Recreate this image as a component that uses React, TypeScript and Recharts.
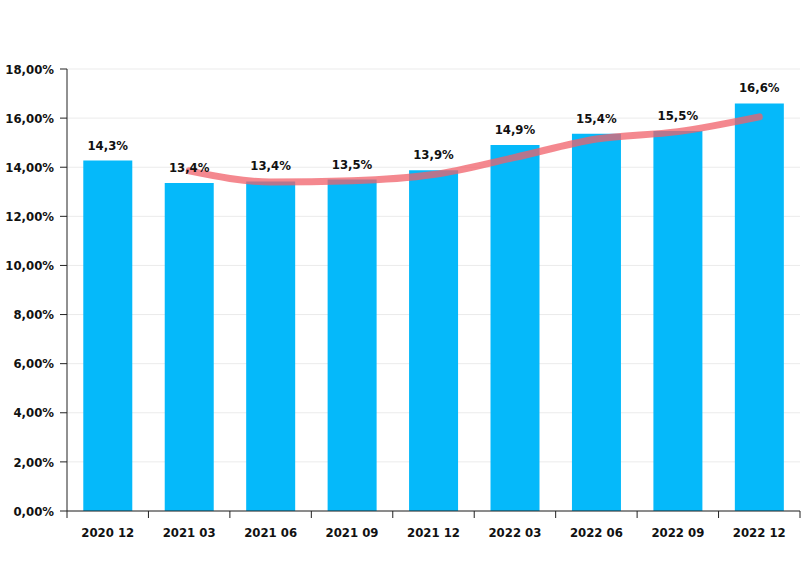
import React from "react";
import {
  Bar,
  CartesianGrid,
  ComposedChart,
  LabelList,
  Line,
  XAxis,
  YAxis,
} from "recharts";

const periods = ["2020 12", "2021 03", "2021 06", "2021 09", "2021 12", "2022 03", "2022 06", "2022 09", "2022 12"];
const ratio = [14.27, 13.36, 13.42, 13.5, 13.88, 14.9, 15.36, 15.48, 16.6];
const trend = [null, 13.85, 13.4, 13.45, 13.7, 14.4, 15.15, 15.45, 16.05];
const yTicks = [0, 2, 4, 6, 8, 10, 12, 14, 16, 18];

const data = periods.map((p, i) => ({ period: p, ratio: ratio[i], trend: trend[i] }));

const FONT = "'DejaVu Sans Condensed', 'DejaVu Sans', sans-serif";
const textStyle = { fontSize: 13, fontWeight: "bold", fontFamily: FONT, fill: "#111" };

const fmtAxis = (v: number) => v.toFixed(2).replace(".", ",") + "%";
const fmtLabel = (v: any) => Number(v).toFixed(1).replace(".", ",") + "%";

// excel-style ticks sit on the category boundaries, not the centres
function PeriodTick(props: any) {
  const { x, y, payload, index } = props;
  const half = payload?.offset ?? 40.7;
  const axisY = y - 9;
  return (
    <g>
      <line x1={x - half} x2={x - half} y1={axisY} y2={axisY + 7} stroke="#222" />
      {index === periods.length - 1 && (
        <line x1={x + half} x2={x + half} y1={axisY} y2={axisY + 7} stroke="#222" />
      )}
      <text x={x} y={axisY + 26} textAnchor="middle" {...textStyle}>
        {payload.value}
      </text>
    </g>
  );
}

export default function App() {
  return (
    <div style={{ position: "absolute", left: 0, top: 0, width: 812, height: 562, background: "#fff" }}>
      <ComposedChart
        width={812}
        height={562}
        data={data}
        margin={{ top: 69, right: 12, bottom: 21, left: 0 }}
        barCategoryGap="20%"
      >
        <CartesianGrid vertical={false} stroke="#ebebeb" />
        <XAxis
          dataKey="period"
          tickLine={false}
          tickSize={7}
          tickMargin={2}
          height={30}
          axisLine={{ stroke: "#222" }}
          tick={<PeriodTick />}
          interval={0}
        />
        <XAxis xAxisId="top" orientation="top" dataKey="period" tick={false} tickLine={false} axisLine={{ stroke: "#999" }} height={0} />
        <YAxis
          domain={[0, 18]}
          ticks={yTicks}
          width={67}
          tickSize={7}
          tickMargin={6}
          tickFormatter={fmtAxis}
          axisLine={{ stroke: "#222" }}
          tickLine={{ stroke: "#222" }}
          tick={textStyle}
        />
        <YAxis yAxisId="right" orientation="right" domain={[0, 18]} tick={false} tickLine={false} axisLine={{ stroke: "#999" }} width={0} />
        <Bar dataKey="ratio" fill="#05B9FA" isAnimationActive={false} />
        <Line
          dataKey="trend"
          type="monotone"
          stroke="#F0606A"
          strokeOpacity={0.75}
          strokeWidth={7}
          strokeLinecap="round"
          dot={false}
          activeDot={false}
          connectNulls={false}
          isAnimationActive={false}
        />
        {/* invisible series just to draw the bar labels above the trend line */}
        <Line dataKey="ratio" stroke="none" dot={false} activeDot={false} legendType="none" isAnimationActive={false}>
          <LabelList dataKey="ratio" position="top" offset={11} formatter={fmtLabel} style={textStyle} />
        </Line>
      </ComposedChart>
    </div>
  );
}
